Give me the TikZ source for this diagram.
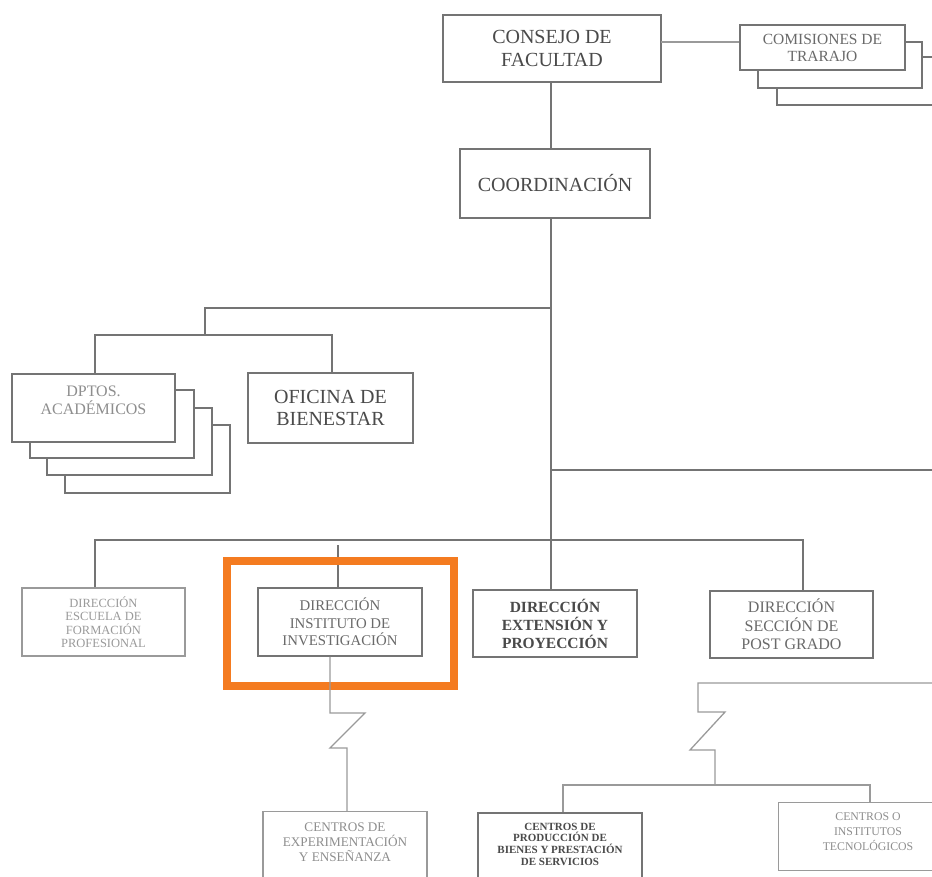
\documentclass[tikz,border=0pt]{standalone}
\usepackage{fontspec}
\setmainfont{Liberation Serif}
\definecolor{ln}{HTML}{747474}
\definecolor{lnl}{HTML}{9A9A9A}
\definecolor{tdark}{HTML}{4A4A4A}
\definecolor{tmid}{HTML}{6A6A6A}
\definecolor{tlight}{HTML}{8E8E8E}
\definecolor{hl}{HTML}{F47B20}
\tikzset{
  box/.style={draw=ln, line width=1.6pt, fill=white, inner sep=0pt, align=center, rectangle},
  conn/.style={draw=ln, line width=1.4pt},
}
\newcommand{\fs}[2]{\fontsize{#1}{#2}\selectfont}
\begin{document}
\begin{tikzpicture}[x=1pt,y=-1pt]
\useasboundingbox (0,0) rectangle (932,876);
\clip (0,0) rectangle (932,876);
% top
\node[box, minimum width=218, minimum height=67, text=tdark, font=\fs{20}{23}] (consejo) at (552,48.5) {CONSEJO DE\\FACULTAD};
\node[box, minimum width=190, minimum height=69, text=tdark, font=\fs{20}{23}] (coord) at (555,183.5) {COORDINACIÓN};
% comisiones stack
\node[box, minimum width=183, minimum height=48] (com3) at (868.5,81) {};
\node[box, minimum width=164, minimum height=46] (com2) at (840,65) {};
\node[box, minimum width=165, minimum height=45, text=tmid, font=\fs{15.5}{17}] (com1) at (822.5,47.5) {COMISIONES DE\\TRARAJO};
\draw[draw=lnl, line width=1.2pt] (661,42) -- (com1.west |- 661,42);
\draw[conn] (consejo.south -| 551,0) -- (551,149);
% dptos stack
\node[box, minimum width=165, minimum height=68] (dp4) at (147.5,459) {};
\node[box, minimum width=165, minimum height=67] (dp3) at (129.5,441.5) {};
\node[box, minimum width=164, minimum height=68] (dp2) at (112,424) {};
\node[box, minimum width=163, minimum height=68] (dp1) at (93.5,408) {};
\node[text=tlight, font=\fs{16}{18}, align=center, inner sep=0pt] (dp1t) at (93.5,400) {DPTOS.\\ACADÉMICOS};
\node[box, minimum width=165, minimum height=70, text=tdark, font=\fs{20}{22}] (ofi) at (330.5,408) {OFICINA DE\\BIENESTAR};
% main trunk
\coordinate (j1) at (551,308);
\coordinate (j2) at (205,308);
\coordinate (j3) at (205,335);
\draw[conn] (coord.south -| 551,0) -- (551,590);
\draw[conn] (j1) -- (j2) -- (j3);
\draw[conn] (dp1.north -| 95,0) -- (95,335) -- (332,335) -- (ofi.north -| 332,0);
\draw[conn] (551,470) -- (932,470);
% direcciones
\node[box, line width=1.2pt, draw=lnl, minimum width=163, minimum height=68, text=lnl, font=\fs{12.5}{13.5}] (esc) at (103.5,622) {DIRECCIÓN\\ESCUELA DE\\FORMACIÓN\\PROFESIONAL};
\node[box, minimum width=164, minimum height=68, text=tmid, font=\fs{14.8}{17.5}] (inv) at (340,622) {DIRECCIÓN\\INSTITUTO DE\\INVESTIGACIÓN};
\node[box, minimum width=164, minimum height=67, text=tdark, font=\bfseries\fs{15.5}{18}] (ext) at (555,623.5) {DIRECCIÓN\\EXTENSIÓN Y\\PROYECCIÓN};
\node[box, minimum width=163, minimum height=67, text=tmid, font=\fs{16}{18.5}] (post) at (791.5,624.5) {DIRECCIÓN\\SECCIÓN DE\\POST GRADO};
\draw[conn] (esc.north -| 95,0) -- (95,540) -- (803,540) -- (post.north -| 803,0);
\draw[conn, line width=1.1pt] (338,545) -- (inv.north -| 338,0);
% highlight
\draw[hl, line width=8pt] (227,561) rectangle (454,686);
% lower level
\node[box, line width=1.2pt, draw=lnl, minimum width=164, minimum height=69, text=tlight, font=\fs{13.2}{15}, anchor=north] (exp) at (345,811) {\\[-19pt]CENTROS DE\\EXPERIMENTACIÓN\\Y ENSEÑANZA};
\node[box, minimum width=164, minimum height=68, text=tdark, font=\bfseries\fs{11}{11.7}, anchor=north] (prod) at (560,812) {\\[-10pt]CENTROS DE\\PRODUCCIÓN DE\\BIENES Y PRESTACIÓN\\DE SERVICIOS};
\node[box, line width=1.2pt, draw=lnl, minimum width=182, minimum height=68, anchor=north west] (tec) at (778,802) {};
\node[text=tlight, font=\fs{11.8}{15}, align=center, inner sep=0pt] (tect) at (868,832) {CENTROS O\\INSTITUTOS\\TECNOLÓGICOS};
% zigzag 1
\draw[conn, draw=lnl, line width=1.3pt] (inv.south -| 330,0) -- (330,713) -- (365,713) -- (330,748) -- (347,748) -- (exp.north -| 347,0);
% zigzag 2
\draw[conn, draw=lnl, line width=1.3pt] (932,683) -- (698,683) -- (698,712) -- (725,712) -- (690,750) -- (715,750) -- (715,785);
\draw[conn, draw=lnl, line width=1.3pt] (prod.north -| 563,0) -- (563,785) -- (870,785) -- (tec.north -| 870,0);
\end{tikzpicture}
\end{document}
